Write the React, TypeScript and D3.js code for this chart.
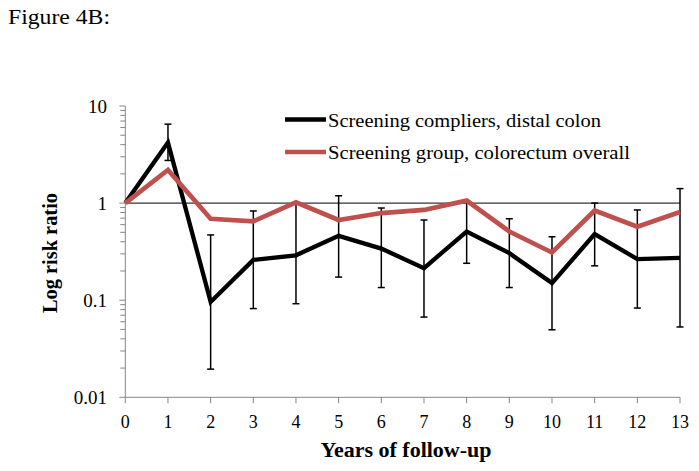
import React from "react";
import * as d3 from "d3";

const years = [0, 1, 2, 3, 4, 5, 6, 7, 8, 9, 10, 11, 12, 13];
const compliers = [1, 4.2, 0.096, 0.26, 0.29, 0.46, 0.34, 0.214, 0.51, 0.305, 0.15, 0.48, 0.265, 0.273];
const compliersUpper = [null, 6.5, 0.47, 0.83, 0.98, 1.19, 0.89, 0.67, 1.06, 0.69, 0.45, 1.0, 0.85, 1.41];
const compliersLower = [null, 2.75, 0.0195, 0.082, 0.092, 0.173, 0.135, 0.067, 0.24, 0.135, 0.0496, 0.226, 0.083, 0.053];
const group = [1, 2.2, 0.69, 0.65, 1.02, 0.67, 0.79, 0.85, 1.06, 0.51, 0.31, 0.84, 0.57, 0.81];
const yTicks = [0.01, 0.1, 1, 10];
const yTickLabels = ["0.01", "0.1", "1", "10"];
const seriesNames = ["Screening compliers, distal colon", "Screening group, colorectum overall"];
const seriesColors = ["#000000", "#C0504D"];

const W = 699;
const H = 471;
const FONT = "'Liberation Serif', 'Times New Roman', serif";

export default function App() {
  const x = d3.scaleLinear().domain([0, 13]).range([125.3, 680]);
  const y = d3.scaleLog().domain([0.01, 10]).range([397.3, 106]);
  const line = d3
    .line<number>()
    .x((_, i) => x(years[i]))
    .y((d) => y(d));

  const minor: number[] = [];
  [0.01, 0.1, 1].forEach((base) => {
    for (let k = 2; k <= 9; k++) minor.push(base * k);
  });

  const axisColor = "#868686";
  const cap = 3.5;

  return (
    <div style={{ position: "absolute", left: 0, top: 0 }}>
      <svg width={W} height={H} style={{ display: "block", background: "#fff" }}>
        <text x={8} y={24} fontFamily={FONT} fontSize={22} textLength={102} lengthAdjust="spacingAndGlyphs">
          Figure 4B:
        </text>

        {/* reference line at 1 */}
        <line x1={x(0)} x2={x(13)} y1={y(1)} y2={y(1)} stroke="#000" strokeWidth={1} />

        {/* y axis */}
        <line x1={x(0)} x2={x(0)} y1={y(0.01)} y2={y(10)} stroke={axisColor} strokeWidth={1} />
        {yTicks.map((t) => (
          <line key={"yt" + t} x1={x(0) - 6} x2={x(0)} y1={y(t)} y2={y(t)} stroke={axisColor} strokeWidth={1} />
        ))}
        {minor.map((t, i) => (
          <line key={"ym" + i} x1={x(0) - 5} x2={x(0)} y1={y(t)} y2={y(t)} stroke={axisColor} strokeWidth={1} />
        ))}
        {yTicks.map((t, i) => (
          <text
            key={"yl" + t}
            x={107}
            y={y(t)}
            dy="0.35em"
            textAnchor="end"
            fontFamily={FONT}
            fontSize={19}
          >
            {yTickLabels[i]}
          </text>
        ))}

        {/* x axis */}
        <line x1={x(0)} x2={x(13)} y1={y(0.01)} y2={y(0.01)} stroke={axisColor} strokeWidth={1} />
        {years.map((t) => (
          <line key={"xt" + t} x1={x(t)} x2={x(t)} y1={y(0.01)} y2={y(0.01) + 6} stroke={axisColor} strokeWidth={1} />
        ))}
        {years.map((t) => (
          <text key={"xl" + t} x={x(t)} y={428} textAnchor="middle" fontFamily={FONT} fontSize={18}>
            {t}
          </text>
        ))}

        {/* axis titles */}
        <text
          x={406}
          y={457}
          textAnchor="middle"
          fontFamily={FONT}
          fontSize={20}
          fontWeight="bold"
          textLength={171}
          lengthAdjust="spacingAndGlyphs"
        >
          Years of follow-up
        </text>
        <text
          transform={`translate(56.5, 253) rotate(-90)`}
          textAnchor="middle"
          fontFamily={FONT}
          fontSize={20}
          fontWeight="bold"
          textLength={120}
          lengthAdjust="spacingAndGlyphs"
        >
          Log risk ratio
        </text>

        {/* black series */}
        <path d={line(compliers) || ""} fill="none" stroke={seriesColors[0]} strokeWidth={4.3} strokeLinejoin="miter" />
        {years.map((t, i) => {
          const up = compliersUpper[i];
          const lo = compliersLower[i];
          if (up == null || lo == null) return null;
          const cx = x(t);
          return (
            <g key={"eb" + i} stroke="#000" strokeWidth={1.5}>
              <line x1={cx} x2={cx} y1={y(up)} y2={y(lo)} />
              <line x1={cx - cap} x2={cx + cap} y1={y(up)} y2={y(up)} />
              <line x1={cx - cap} x2={cx + cap} y1={y(lo)} y2={y(lo)} />
            </g>
          );
        })}

        {/* red series */}
        <path d={line(group) || ""} fill="none" stroke={seriesColors[1]} strokeWidth={4.7} strokeLinejoin="miter" />

        {/* legend */}
        {seriesNames.map((name, i) => {
          const ly = 119.5 + i * 32.4;
          return (
            <g key={"lg" + i}>
              <line x1={285} x2={326} y1={ly} y2={ly} stroke={seriesColors[i]} strokeWidth={4.5} />
              <text
                x={328}
                y={ly + 7.2}
                fontFamily={FONT}
                fontSize={19}
                textLength={i === 0 ? 273 : 302}
                lengthAdjust="spacingAndGlyphs"
              >
                {name}
              </text>
            </g>
          );
        })}
      </svg>
    </div>
  );
}
